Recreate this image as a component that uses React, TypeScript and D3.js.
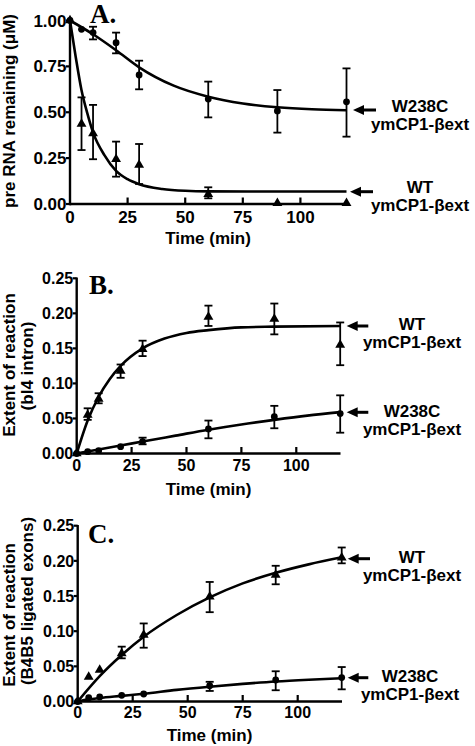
import React from 'react';
import * as d3 from 'd3';

// ---------- data ----------
const time = [0, 5, 10, 20, 30, 60, 90, 120];
const xTicks = [0, 25, 50, 75, 100];
const yTicksA = [0, 0.25, 0.5, 0.75, 1.0];
const yTicksBC = [0, 0.05, 0.1, 0.15, 0.2, 0.25];

// Panel A: pre RNA remaining (µM)
const aMutMean = [1.0, 0.952, 0.934, 0.879, 0.703, 0.572, 0.507, 0.557];
const aMutLo = [null, null, 0.897, 0.821, 0.625, 0.472, 0.389, 0.367];
const aMutHi = [null, null, 0.966, 0.934, 0.781, 0.667, 0.621, 0.739];
const aWtMean = [1.0, 0.436, 0.385, 0.244, 0.2125, 0.053, 0.005, 0.005];
const aWtLo = [null, 0.294, 0.244, 0.149, 0.109, 0.031, null, null];
const aWtHi = [null, 0.581, 0.54, 0.34, 0.327, 0.091, null, null];
const aMutFitT = [0, 10, 20, 30, 45, 60, 75, 90, 105, 120];
const aMutFitV = [1.0, 0.925, 0.838, 0.745, 0.645, 0.585, 0.548, 0.527, 0.516, 0.511];
const aWtFitT = [0, 2.5, 5, 7.5, 10, 15, 20, 25, 30, 40, 50, 60, 90, 120];
const aWtFitV = [1.0, 0.8, 0.62, 0.495, 0.39, 0.265, 0.18, 0.135, 0.108, 0.082, 0.072, 0.069, 0.068, 0.068];

// Panel B: extent of reaction (bI4 intron)
const bWtMean = [0, 0.055, 0.078, 0.118, 0.149, 0.195, 0.192, 0.155];
const bWtLo = [null, 0.048, 0.0716, 0.108, 0.139, 0.182, 0.17, 0.126];
const bWtHi = [null, 0.0645, 0.086, 0.127, 0.161, 0.211, 0.214, 0.187];
const bMutMean = [0, 0.0026, 0.004, 0.0097, 0.017, 0.035, 0.0525, 0.057];
const bMutLo = [null, null, null, null, 0.0131, 0.0217, 0.036, 0.0297];
const bMutHi = [null, null, null, null, 0.0226, 0.047, 0.068, 0.083];
const bWtFitT = [0, 5, 10, 15, 20, 30, 40, 50, 60, 75, 90, 120];
const bWtFitV = [0, 0.047, 0.081, 0.106, 0.125, 0.15, 0.164, 0.172, 0.176, 0.18, 0.181, 0.182];
const bMutFitT = [0, 10, 20, 30, 45, 60, 75, 90, 105, 120];
const bMutFitV = [0, 0.0058, 0.0115, 0.017, 0.0255, 0.034, 0.0415, 0.048, 0.054, 0.059];

// Panel C: extent of reaction (B4B5 ligated exons)
const cWtMean = [0, 0.035, 0.045, 0.0685, 0.0946, 0.149, 0.18, 0.2045];
const cWtLo = [null, null, null, 0.0614, 0.0765, 0.127, 0.1667, 0.1965];
const cWtHi = [null, null, null, 0.078, 0.111, 0.17, 0.193, 0.219];
const cMutMean = [0, 0.0055, 0.0065, 0.0088, 0.0107, 0.0225, 0.0306, 0.034];
const cMutLo = [null, null, null, null, null, 0.015, 0.016, 0.0173];
const cMutHi = [null, null, null, null, null, 0.028, 0.043, 0.049];
const cWtFitT = [0, 10, 20, 30, 45, 60, 75, 90, 105, 120];
const cWtFitV = [0, 0.036, 0.066, 0.092, 0.123, 0.148, 0.168, 0.183, 0.195, 0.205];
const cMutFitT = [0, 5, 10, 20, 30, 45, 60, 75, 90, 105, 120];
const cMutFitV = [0, 0.003, 0.005, 0.008, 0.011, 0.0165, 0.021, 0.025, 0.0285, 0.031, 0.033];

const letters = ['A.', 'B.', 'C.'];
const yTitles = [['pre RNA remaining (\u03BCM)'], ['Extent of reaction', '(bI4 intron)'], ['Extent of reaction', '(B4B5 ligated exons)']];
const legendWT = ['WT', 'ymCP1-\u03B2ext'];
const legendMut = ['W238C', 'ymCP1-\u03B2ext'];

// ---------- layout ----------
const SANS = '"Liberation Sans", Arial, sans-serif';
const SERIF = '"Liberation Serif", "Times New Roman", serif';

type Ser = { shape: 'circle' | 'triangle'; mean: number[]; lo: (number | null)[]; hi: (number | null)[]; fitT: number[]; fitV: number[] };

const panels = [
  {
    left: 70, right: 346.5, top: 20.5, bottom: 204, yMax: 1.0, yTicks: yTicksA, axisEnd: 348, yAxisTop: 18,
    tickFont: 17, tickBase: 222.5, titleBase: 244, titleX: 208,
    letterX: 90, letterBase: 23,
    yTitle: [{ x: 15, y: 111 }],
    series: [
      { shape: 'circle', mean: aMutMean, lo: aMutLo, hi: aMutHi, fitT: aMutFitT, fitV: aMutFitV },
      { shape: 'triangle', mean: aWtMean, lo: aWtLo, hi: aWtHi, fitT: aWtFitT, fitV: aWtFitV },
    ] as Ser[],
    legends: [
      { text: legendMut, cx: 420, base: 111.5, arrowY: 110, tip: 353, tail: 376 },
      { text: legendWT, cx: 420, base: 193, arrowY: 191.7, tip: 350, tail: 373 },
    ],
  },
  {
    left: 76.7, right: 340.2, top: 278.3, bottom: 453.5, yMax: 0.25, yTicks: yTicksBC, axisEnd: 340.5, yAxisTop: 277.5,
    tickFont: 16, tickBase: 470.7, titleBase: 495, titleX: 208.5,
    letterX: 89, letterBase: 294,
    yTitle: [{ x: 15, y: 365 }, { x: 33, y: 366 }],
    series: [
      { shape: 'triangle', mean: bWtMean, lo: bWtLo, hi: bWtHi, fitT: bWtFitT, fitV: bWtFitV },
      { shape: 'circle', mean: bMutMean, lo: bMutLo, hi: bMutHi, fitT: bMutFitT, fitV: bMutFitV },
    ] as Ser[],
    legends: [
      { text: legendWT, cx: 412, base: 330, arrowY: 326, tip: 346.7, tail: 368.3 },
      { text: legendMut, cx: 412, base: 416.5, arrowY: 412.3, tip: 346.7, tail: 368.3 },
    ],
  },
  {
    left: 77.7, right: 341.7, top: 525.7, bottom: 701.5, yMax: 0.25, yTicks: yTicksBC, axisEnd: 342, yAxisTop: 525,
    tickFont: 16, tickBase: 718, titleBase: 741, titleX: 209.5,
    letterX: 88, letterBase: 543,
    yTitle: [{ x: 15, y: 615 }, { x: 33, y: 601 }],
    series: [
      { shape: 'triangle', mean: cWtMean, lo: cWtLo, hi: cWtHi, fitT: cWtFitT, fitV: cWtFitV },
      { shape: 'circle', mean: cMutMean, lo: cMutLo, hi: cMutHi, fitT: cMutFitT, fitV: cMutFitV },
    ] as Ser[],
    legends: [
      { text: legendWT, cx: 412, base: 563, arrowY: 558.7, tip: 347.7, tail: 370 },
      { text: legendMut, cx: 410, base: 682, arrowY: 677.7, tip: 347.7, tail: 368.3 },
    ],
  },
];

const triPath = d3.symbol().type(d3.symbolTriangle).size(42)() as string;

function Panel({ cfg, idx }: { cfg: any; idx: number }) {
  const x = d3.scaleLinear().domain([0, 120]).range([cfg.left, cfg.right]);
  const y = d3.scaleLinear().domain([0, cfg.yMax]).range([cfg.bottom, cfg.top]);
  const line = d3
    .line<[number, number]>()
    .x((d) => x(d[0]))
    .y((d) => y(d[1]))
    .curve(d3.curveMonotoneX);
  const fmt = d3.format('.2f');

  return (
    <g>
      {/* fitted curves */}
      {cfg.series.map((s: Ser, i: number) => (
        <path
          key={'f' + i}
          d={line(s.fitT.map((t, k) => [t, s.fitV[k]] as [number, number])) as string}
          fill="none"
          stroke="#000"
          strokeWidth={2.6}
        />
      ))}
      {/* error bars */}
      {cfg.series.map((s: Ser, i: number) =>
        time.map((t, k) => {
          const lo = s.lo[k];
          const hi = s.hi[k];
          if (lo == null || hi == null) return null;
          const cx = x(t);
          return (
            <g key={'e' + i + '-' + k} stroke="#000" strokeWidth={1.8}>
              <line x1={cx} x2={cx} y1={y(lo)} y2={y(hi)} />
              <line x1={cx - 4} x2={cx + 4} y1={y(lo)} y2={y(lo)} />
              <line x1={cx - 4} x2={cx + 4} y1={y(hi)} y2={y(hi)} />
            </g>
          );
        })
      )}
      {/* markers */}
      {cfg.series.map((s: Ser, i: number) =>
        time.map((t, k) =>
          s.shape === 'circle' ? (
            <circle key={'m' + i + '-' + k} cx={x(t)} cy={y(s.mean[k])} r={3.4} fill="#000" />
          ) : (
            <path key={'m' + i + '-' + k} d={triPath} transform={`translate(${x(t)},${y(s.mean[k])})`} fill="#000" />
          )
        )
      )}
      {/* axes */}
      <line x1={cfg.left} x2={cfg.axisEnd} y1={cfg.bottom} y2={cfg.bottom} stroke="#000" strokeWidth={2.6} />
      <line x1={cfg.left} x2={cfg.left} y1={cfg.bottom + 1.3} y2={cfg.yAxisTop} stroke="#000" strokeWidth={2.4} />
      {xTicks.slice(1).map((t) => (
        <line key={'xt' + t} x1={x(t)} x2={x(t)} y1={cfg.bottom} y2={cfg.bottom - 6.5} stroke="#000" strokeWidth={2.2} />
      ))}
      {cfg.yTicks.map((v: number) => (
        <line key={'yt' + v} x1={cfg.left - 4} x2={cfg.left} y1={y(v)} y2={y(v)} stroke="#000" strokeWidth={2.2} />
      ))}
      <g fontFamily={SANS} fontWeight="bold" fontSize={cfg.tickFont} fill="#000">
        {xTicks.map((t) => (
          <text key={'xl' + t} x={x(t)} y={cfg.tickBase} textAnchor="middle">
            {t}
          </text>
        ))}
        {cfg.yTicks.map((v: number) => (
          <text key={'yl' + v} x={cfg.left - 3.5} y={y(v)} dy="0.36em" textAnchor="end">
            {fmt(v)}
          </text>
        ))}
      </g>
      <text x={cfg.titleX} y={cfg.titleBase} textAnchor="middle" fontFamily={SANS} fontWeight="bold" fontSize={17}>
        Time (min)
      </text>
      {yTitles[idx].map((s, i) => (
        <text
          key={'yt' + i}
          transform={`translate(${cfg.yTitle[i].x},${cfg.yTitle[i].y}) rotate(-90)`}
          textAnchor="middle"
          fontFamily={SANS}
          fontWeight="bold"
          fontSize={17}
        >
          {s}
        </text>
      ))}
      <text x={cfg.letterX} y={cfg.letterBase} fontFamily={SERIF} fontWeight="bold" fontSize={27}>
        {letters[idx]}
      </text>
      {/* legend annotations */}
      {cfg.legends.map((L: any, i: number) => (
        <g key={'lg' + i}>
          <line x1={L.tip + 9} x2={L.tail} y1={L.arrowY} y2={L.arrowY} stroke="#000" strokeWidth={3} />
          <path d={`M${L.tip},${L.arrowY} L${L.tip + 11},${L.arrowY - 5} L${L.tip + 11},${L.arrowY + 5} Z`} fill="#000" />
          <text x={L.cx} y={L.base} textAnchor="middle" fontFamily={SANS} fontWeight="bold" fontSize={17}>
            {L.text[0]}
          </text>
          <text x={L.cx} y={L.base + 18} textAnchor="middle" fontFamily={SANS} fontWeight="bold" fontSize={17}>
            {L.text[1]}
          </text>
        </g>
      ))}
    </g>
  );
}

export default function App() {
  return (
    <svg
      width={475}
      height={746}
      viewBox="0 0 475 746"
      style={{ position: 'absolute', left: 0, top: 0, background: '#fff' }}
    >
      <rect x={0} y={0} width={475} height={746} fill="#fff" />
      {panels.map((p, i) => (
        <Panel key={i} cfg={p} idx={i} />
      ))}
    </svg>
  );
}
